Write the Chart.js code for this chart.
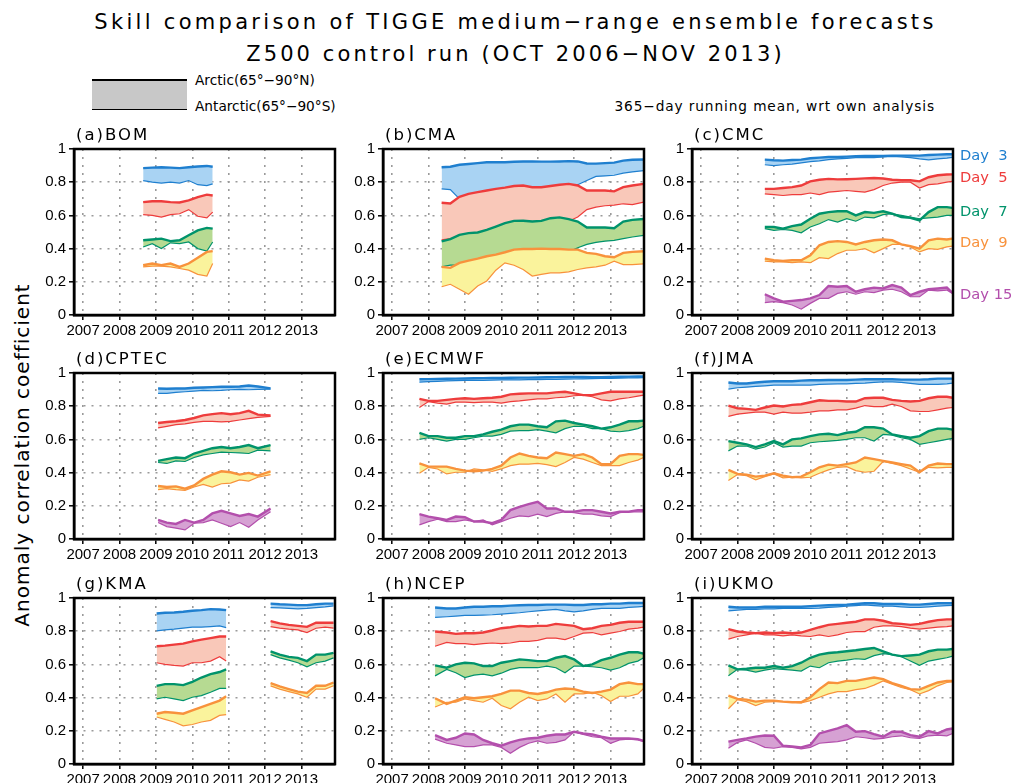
<!DOCTYPE html>
<html>
<head>
<meta charset="utf-8">
<script src="https://cdn.jsdelivr.net/npm/chart.js@4.4.1/dist/chart.umd.min.js"></script>
<style>
  body { margin: 0; background: #fff; }
  #page { position: relative; width: 1020px; height: 783px; overflow: hidden; font-family: "DejaVu Sans", sans-serif; color: #000; }
  .txt { position: absolute; white-space: pre; line-height: 1; }
  .ptitle { position: absolute; white-space: pre; line-height: 1; font-size: 16.5px; letter-spacing: 2px; }
  canvas { position: absolute; }
</style>
</head>
<body>
<div id="page">
  <div class="txt" style="left:0;width:1031px;text-align:center;top:12px;font-size:21px;letter-spacing:3.3px">Skill comparison of TIGGE medium−range ensemble forecasts</div>
  <div class="txt" style="left:0;width:1031px;text-align:center;top:44px;font-size:21px;letter-spacing:3.1px">Z500 control run (OCT 2006−NOV 2013)</div>

  <div style="position:absolute;left:92px;top:79px;width:95px;height:28px;background:#c8c8c8;border-top:2px solid #000;border-bottom:1.3px solid #000"></div>
  <div class="txt" style="left:195px;top:74px;font-size:13.7px">Arctic(65°−90°N)</div>
  <div class="txt" style="left:195px;top:100px;font-size:13.7px">Antarctic(65°−90°S)</div>
  <div class="txt" style="right:85px;top:100px;font-size:13.7px;letter-spacing:0.9px">365−day running mean, wrt own analysis</div>

  <div class="txt" style="left:-151px;top:445px;width:345px;text-align:center;font-size:20px;letter-spacing:1px;transform:rotate(-90deg)">Anomaly correlation coefficient</div>
</div>

<script>
// lead times and colours
const leadDays = ['Day  3', 'Day  5', 'Day  7', 'Day  9', 'Day 15'];
const lineColors = ['#1f7fcf', '#ee3c3c', '#00936b', '#f8923c', '#b34fac'];
const fillColors = ['#a9d3f3', '#f9c8b9', '#b6da92', '#faf39c', '#d6a1d3'];
const dayLabelY = [148, 170, 204, 235, 287];

const yearTicks = [2007, 2008, 2009, 2010, 2011, 2012, 2013];
const yTicks = [0, 0.2, 0.4, 0.6, 0.8, 1];

// common time axis (decimal years, 365-day running mean end points)
const fullTime = [2007.75, 2008, 2008.25, 2008.5, 2008.75, 2009, 2009.25, 2009.5, 2009.75, 2010, 2010.25, 2010.5, 2010.75, 2011, 2011.25, 2011.5, 2011.75, 2012, 2012.25, 2012.5, 2012.75, 2013, 2013.25, 2013.5, 2013.75, 2013.91];

// (a) BOM
const bomTime = [2008.65, 2008.9, 2009.15, 2009.4, 2009.65, 2009.9, 2010.15, 2010.4, 2010.56];
const bomArctic = [
  [0.885, 0.888, 0.89, 0.888, 0.885, 0.89, 0.895, 0.898, 0.893],
  [0.68, 0.685, 0.685, 0.68, 0.678, 0.69, 0.71, 0.725, 0.72],
  [0.45, 0.455, 0.46, 0.445, 0.45, 0.48, 0.51, 0.525, 0.52],
  [0.30, 0.31, 0.30, 0.31, 0.29, 0.31, 0.345, 0.38, 0.385]
];
const bomAntarctic = [
  [0.81, 0.80, 0.795, 0.80, 0.795, 0.81, 0.785, 0.78, 0.79],
  [0.605, 0.60, 0.59, 0.605, 0.61, 0.635, 0.595, 0.585, 0.62],
  [0.41, 0.43, 0.40, 0.435, 0.43, 0.44, 0.40, 0.385, 0.44],
  [0.29, 0.295, 0.295, 0.29, 0.28, 0.27, 0.245, 0.235, 0.31]
];

// (b) CMA
const cmaTime = [2008.36, 2008.6, 2008.85, 2009.1, 2009.35, 2009.6, 2009.85, 2010.1, 2010.35, 2010.6, 2010.85, 2011.1, 2011.35, 2011.6, 2011.85, 2012.1, 2012.35, 2012.6, 2012.85, 2013.1, 2013.35, 2013.6, 2013.91];
const cmaArctic = [
  [0.89, 0.893, 0.905, 0.91, 0.915, 0.92, 0.92, 0.92, 0.923, 0.925, 0.925, 0.924, 0.924, 0.925, 0.927, 0.925, 0.913, 0.912, 0.915, 0.918, 0.93, 0.935, 0.937],
  [0.676, 0.672, 0.712, 0.73, 0.74, 0.75, 0.76, 0.767, 0.777, 0.78, 0.77, 0.77, 0.777, 0.785, 0.79, 0.78, 0.75, 0.75, 0.75, 0.745, 0.77, 0.78, 0.79],
  [0.443, 0.457, 0.483, 0.493, 0.497, 0.513, 0.533, 0.553, 0.567, 0.568, 0.563, 0.567, 0.583, 0.588, 0.578, 0.563, 0.527, 0.527, 0.527, 0.523, 0.563, 0.573, 0.578],
  [0.29, 0.284, 0.314, 0.328, 0.34, 0.354, 0.364, 0.378, 0.394, 0.398, 0.398, 0.40, 0.398, 0.398, 0.394, 0.394, 0.374, 0.368, 0.354, 0.348, 0.374, 0.38, 0.384]
];
const cmaAntarctic = [
  [0.76, 0.755, 0.70, 0.715, 0.725, 0.735, 0.745, 0.752, 0.762, 0.765, 0.755, 0.755, 0.762, 0.77, 0.775, 0.785, 0.81, 0.835, 0.838, 0.842, 0.855, 0.862, 0.87],
  [0.453, 0.46, 0.468, 0.478, 0.482, 0.498, 0.518, 0.538, 0.552, 0.553, 0.548, 0.552, 0.568, 0.573, 0.565, 0.59, 0.635, 0.65, 0.658, 0.662, 0.67, 0.665, 0.68],
  [0.29, 0.30, 0.30, 0.313, 0.325, 0.34, 0.35, 0.363, 0.38, 0.383, 0.383, 0.385, 0.383, 0.383, 0.38, 0.405, 0.425, 0.437, 0.445, 0.45, 0.46, 0.47, 0.48],
  [0.17, 0.185, 0.155, 0.125, 0.175, 0.205, 0.27, 0.314, 0.30, 0.274, 0.235, 0.245, 0.254, 0.254, 0.26, 0.274, 0.284, 0.29, 0.30, 0.324, 0.304, 0.304, 0.308]
];

// (c) CMC
const cmcTime = [2008.75, 2009, 2009.25, 2009.5, 2009.75, 2010, 2010.25, 2010.5, 2010.75, 2011, 2011.25, 2011.5, 2011.75, 2012, 2012.25, 2012.5, 2012.75, 2013, 2013.25, 2013.5, 2013.75, 2013.9];
const cmcArctic = [
  [0.936, 0.932, 0.93, 0.934, 0.936, 0.944, 0.948, 0.952, 0.952, 0.954, 0.956, 0.958, 0.958, 0.958, 0.96, 0.96, 0.96, 0.96, 0.964, 0.966, 0.968, 0.968],
  [0.76, 0.76, 0.765, 0.77, 0.78, 0.805, 0.815, 0.82, 0.817, 0.818, 0.82, 0.823, 0.825, 0.822, 0.815, 0.812, 0.812, 0.805, 0.83, 0.842, 0.846, 0.847],
  [0.53, 0.53, 0.52, 0.535, 0.545, 0.58, 0.61, 0.62, 0.625, 0.625, 0.60, 0.62, 0.615, 0.625, 0.61, 0.59, 0.585, 0.57, 0.62, 0.65, 0.65, 0.645],
  [0.34, 0.33, 0.325, 0.33, 0.33, 0.36, 0.42, 0.44, 0.445, 0.44, 0.425, 0.44, 0.45, 0.455, 0.45, 0.425, 0.415, 0.40, 0.45, 0.46, 0.455, 0.46],
  [0.125, 0.10, 0.08, 0.085, 0.09, 0.10, 0.12, 0.175, 0.17, 0.175, 0.14, 0.155, 0.165, 0.16, 0.18, 0.165, 0.12, 0.14, 0.155, 0.16, 0.165, 0.135]
];
const cmcAntarctic = [
  [0.905, 0.90, 0.905, 0.909, 0.916, 0.924, 0.928, 0.936, 0.94, 0.944, 0.948, 0.948, 0.948, 0.952, 0.955, 0.953, 0.948, 0.94, 0.935, 0.94, 0.945, 0.95],
  [0.73, 0.725, 0.72, 0.725, 0.725, 0.735, 0.725, 0.74, 0.745, 0.75, 0.745, 0.74, 0.755, 0.78, 0.795, 0.80, 0.80, 0.765, 0.785, 0.79, 0.80, 0.805],
  [0.52, 0.51, 0.515, 0.51, 0.495, 0.53, 0.55, 0.575, 0.56, 0.58, 0.565, 0.59, 0.585, 0.605, 0.61, 0.60, 0.59, 0.58, 0.585, 0.59, 0.60, 0.60],
  [0.325, 0.32, 0.32, 0.315, 0.32, 0.315, 0.345, 0.34, 0.37, 0.39, 0.39, 0.40, 0.375, 0.40, 0.425, 0.425, 0.41, 0.38, 0.40, 0.395, 0.41, 0.415],
  [0.075, 0.08, 0.075, 0.06, 0.035, 0.07, 0.10, 0.10, 0.13, 0.14, 0.125, 0.14, 0.135, 0.15, 0.155, 0.14, 0.11, 0.11, 0.15, 0.145, 0.15, 0.13]
];

// (d) CPTEC
const cptecTime = [2009.06, 2009.3, 2009.55, 2009.8, 2010.05, 2010.3, 2010.55, 2010.8, 2011.05, 2011.3, 2011.55, 2011.8, 2012.15];
const cptecArctic = [
  [0.907, 0.905, 0.907, 0.907, 0.911, 0.913, 0.915, 0.917, 0.917, 0.919, 0.925, 0.919, 0.907],
  [0.699, 0.705, 0.709, 0.717, 0.729, 0.745, 0.752, 0.758, 0.752, 0.758, 0.772, 0.749, 0.745],
  [0.471, 0.481, 0.491, 0.487, 0.515, 0.531, 0.547, 0.554, 0.547, 0.554, 0.566, 0.547, 0.566],
  [0.319, 0.313, 0.317, 0.303, 0.323, 0.362, 0.388, 0.408, 0.402, 0.388, 0.398, 0.382, 0.408],
  [0.115, 0.099, 0.091, 0.115, 0.099, 0.115, 0.154, 0.170, 0.154, 0.139, 0.150, 0.135, 0.184]
];
const cptecAntarctic = [
  [0.877, 0.877, 0.883, 0.887, 0.891, 0.895, 0.893, 0.895, 0.899, 0.901, 0.899, 0.901, 0.903],
  [0.669, 0.679, 0.689, 0.693, 0.703, 0.709, 0.709, 0.705, 0.709, 0.717, 0.725, 0.733, 0.739],
  [0.461, 0.455, 0.471, 0.467, 0.491, 0.507, 0.515, 0.523, 0.521, 0.519, 0.515, 0.535, 0.531],
  [0.297, 0.303, 0.297, 0.293, 0.313, 0.329, 0.313, 0.333, 0.337, 0.356, 0.349, 0.372, 0.388],
  [0.099, 0.075, 0.065, 0.055, 0.095, 0.099, 0.115, 0.095, 0.075, 0.099, 0.071, 0.115, 0.164]
];

// (e) ECMWF
const ecmwfArctic = [
  [0.962, 0.963, 0.964, 0.965, 0.966, 0.967, 0.968, 0.969, 0.97, 0.97, 0.971, 0.972, 0.972, 0.973, 0.974, 0.975, 0.976, 0.976, 0.976, 0.975, 0.975, 0.976, 0.977, 0.978, 0.979, 0.979],
  [0.844, 0.832, 0.832, 0.838, 0.844, 0.848, 0.844, 0.848, 0.851, 0.857, 0.871, 0.875, 0.877, 0.877, 0.877, 0.883, 0.887, 0.877, 0.867, 0.867, 0.877, 0.887, 0.887, 0.887, 0.887, 0.887],
  [0.640, 0.620, 0.620, 0.610, 0.610, 0.620, 0.620, 0.630, 0.646, 0.659, 0.679, 0.689, 0.689, 0.679, 0.673, 0.709, 0.713, 0.699, 0.689, 0.679, 0.665, 0.673, 0.689, 0.709, 0.709, 0.713],
  [0.455, 0.436, 0.436, 0.436, 0.422, 0.412, 0.408, 0.412, 0.422, 0.442, 0.491, 0.515, 0.501, 0.491, 0.487, 0.521, 0.511, 0.501, 0.511, 0.491, 0.451, 0.451, 0.501, 0.511, 0.511, 0.507],
  [0.150, 0.135, 0.125, 0.115, 0.135, 0.131, 0.105, 0.105, 0.095, 0.115, 0.174, 0.194, 0.210, 0.224, 0.184, 0.184, 0.164, 0.164, 0.174, 0.174, 0.164, 0.154, 0.164, 0.164, 0.174, 0.174]
];
const ecmwfAntarctic = [
  [0.945, 0.948, 0.95, 0.952, 0.954, 0.955, 0.955, 0.956, 0.957, 0.958, 0.958, 0.959, 0.96, 0.96, 0.961, 0.962, 0.963, 0.964, 0.965, 0.966, 0.967, 0.968, 0.969, 0.97, 0.971, 0.972],
  [0.792, 0.828, 0.818, 0.812, 0.824, 0.824, 0.822, 0.824, 0.824, 0.818, 0.828, 0.832, 0.838, 0.844, 0.844, 0.851, 0.855, 0.863, 0.867, 0.857, 0.838, 0.832, 0.844, 0.851, 0.861, 0.867],
  [0.600, 0.610, 0.600, 0.590, 0.600, 0.600, 0.610, 0.620, 0.620, 0.630, 0.650, 0.653, 0.653, 0.659, 0.650, 0.640, 0.665, 0.679, 0.679, 0.665, 0.665, 0.650, 0.646, 0.653, 0.665, 0.679],
  [0.396, 0.432, 0.422, 0.392, 0.402, 0.402, 0.422, 0.416, 0.408, 0.422, 0.442, 0.451, 0.451, 0.455, 0.448, 0.436, 0.461, 0.491, 0.481, 0.461, 0.442, 0.442, 0.442, 0.461, 0.475, 0.491],
  [0.085, 0.105, 0.119, 0.105, 0.105, 0.115, 0.105, 0.115, 0.085, 0.105, 0.125, 0.139, 0.135, 0.150, 0.135, 0.154, 0.164, 0.158, 0.150, 0.150, 0.139, 0.135, 0.158, 0.164, 0.164, 0.164]
];

// (f) JMA
const jmaArctic = [
  [0.943, 0.937, 0.937, 0.943, 0.947, 0.950, 0.950, 0.950, 0.954, 0.956, 0.956, 0.958, 0.958, 0.958, 0.960, 0.962, 0.962, 0.962, 0.962, 0.960, 0.960, 0.960, 0.962, 0.966, 0.966, 0.966],
  [0.804, 0.788, 0.784, 0.778, 0.792, 0.804, 0.798, 0.808, 0.812, 0.824, 0.836, 0.832, 0.832, 0.828, 0.828, 0.848, 0.851, 0.851, 0.838, 0.832, 0.828, 0.832, 0.848, 0.857, 0.857, 0.851],
  [0.590, 0.580, 0.570, 0.554, 0.570, 0.590, 0.570, 0.600, 0.606, 0.620, 0.630, 0.634, 0.626, 0.640, 0.646, 0.673, 0.673, 0.665, 0.630, 0.620, 0.610, 0.620, 0.650, 0.665, 0.665, 0.659],
  [0.416, 0.392, 0.388, 0.376, 0.382, 0.396, 0.382, 0.372, 0.376, 0.402, 0.432, 0.448, 0.442, 0.451, 0.461, 0.491, 0.481, 0.471, 0.461, 0.451, 0.442, 0.402, 0.442, 0.455, 0.451, 0.451]
];
const jmaAntarctic = [
  [0.903, 0.911, 0.915, 0.919, 0.923, 0.927, 0.927, 0.927, 0.927, 0.927, 0.931, 0.933, 0.935, 0.935, 0.937, 0.939, 0.943, 0.947, 0.947, 0.943, 0.937, 0.931, 0.931, 0.931, 0.935, 0.939],
  [0.739, 0.752, 0.758, 0.764, 0.764, 0.752, 0.764, 0.758, 0.758, 0.764, 0.772, 0.772, 0.778, 0.778, 0.788, 0.804, 0.798, 0.798, 0.812, 0.798, 0.772, 0.768, 0.768, 0.778, 0.788, 0.792],
  [0.531, 0.560, 0.560, 0.541, 0.554, 0.580, 0.554, 0.560, 0.560, 0.580, 0.586, 0.590, 0.594, 0.600, 0.610, 0.610, 0.590, 0.630, 0.626, 0.610, 0.600, 0.570, 0.580, 0.590, 0.600, 0.606],
  [0.352, 0.388, 0.382, 0.356, 0.376, 0.392, 0.368, 0.372, 0.368, 0.372, 0.396, 0.416, 0.432, 0.436, 0.412, 0.402, 0.408, 0.467, 0.455, 0.442, 0.422, 0.402, 0.432, 0.428, 0.432, 0.432]
];

// (g) KMA, two periods with a gap
const kmaTime = [2009.02, 2009.25, 2009.5, 2009.75, 2010, 2010.25, 2010.5, 2010.75, 2010.93, 2011.5, 2012.15, 2012.4, 2012.65, 2012.9, 2013.15, 2013.4, 2013.65, 2013.88];
const kmaArctic = [
  [0.907, 0.911, 0.913, 0.917, 0.923, 0.927, 0.933, 0.931, 0.927, null, 0.966, 0.962, 0.960, 0.957, 0.957, 0.962, 0.966, 0.966],
  [0.709, 0.713, 0.719, 0.725, 0.739, 0.749, 0.758, 0.768, 0.768, null, 0.861, 0.847, 0.838, 0.832, 0.826, 0.851, 0.851, 0.851],
  [0.471, 0.481, 0.481, 0.475, 0.495, 0.521, 0.541, 0.554, 0.570, null, 0.679, 0.659, 0.645, 0.639, 0.620, 0.659, 0.659, 0.669],
  [0.303, 0.313, 0.309, 0.303, 0.323, 0.343, 0.362, 0.382, 0.408, null, 0.487, 0.467, 0.451, 0.436, 0.428, 0.471, 0.471, 0.491]
];
const kmaAntarctic = [
  [0.802, 0.808, 0.812, 0.818, 0.824, 0.824, 0.828, 0.832, 0.822, null, 0.942, 0.940, 0.938, 0.935, 0.937, 0.942, 0.946, 0.952],
  [0.610, 0.600, 0.594, 0.590, 0.610, 0.610, 0.620, 0.646, 0.620, null, 0.828, 0.818, 0.812, 0.808, 0.792, 0.818, 0.824, 0.818],
  [0.392, 0.402, 0.392, 0.382, 0.402, 0.412, 0.432, 0.455, 0.455, null, 0.659, 0.639, 0.626, 0.610, 0.586, 0.610, 0.620, 0.639],
  [0.283, 0.269, 0.253, 0.230, 0.238, 0.253, 0.263, 0.293, 0.297, null, 0.471, 0.451, 0.436, 0.422, 0.402, 0.451, 0.451, 0.471]
];

// (h) NCEP
const ncepTime = [2008.18, 2008.5, 2008.75, 2009, 2009.25, 2009.5, 2009.75, 2010, 2010.25, 2010.5, 2010.75, 2011, 2011.25, 2011.5, 2011.75, 2012, 2012.25, 2012.5, 2012.75, 2013, 2013.25, 2013.5, 2013.75, 2013.91];
const ncepArctic = [
  [0.943, 0.937, 0.937, 0.943, 0.947, 0.947, 0.950, 0.950, 0.954, 0.956, 0.958, 0.958, 0.960, 0.960, 0.960, 0.958, 0.958, 0.962, 0.962, 0.966, 0.966, 0.970, 0.970, 0.970],
  [0.798, 0.792, 0.784, 0.788, 0.788, 0.792, 0.804, 0.818, 0.824, 0.832, 0.828, 0.832, 0.832, 0.844, 0.838, 0.832, 0.812, 0.818, 0.832, 0.838, 0.851, 0.857, 0.857, 0.857],
  [0.594, 0.580, 0.600, 0.610, 0.606, 0.590, 0.590, 0.610, 0.620, 0.630, 0.626, 0.620, 0.620, 0.640, 0.650, 0.630, 0.590, 0.600, 0.626, 0.640, 0.659, 0.673, 0.673, 0.665],
  [0.396, 0.362, 0.382, 0.402, 0.396, 0.402, 0.408, 0.422, 0.442, 0.442, 0.428, 0.422, 0.432, 0.448, 0.455, 0.451, 0.436, 0.428, 0.436, 0.448, 0.481, 0.491, 0.481, 0.481],
  [0.174, 0.145, 0.158, 0.184, 0.178, 0.145, 0.125, 0.110, 0.130, 0.145, 0.154, 0.158, 0.170, 0.178, 0.178, 0.194, 0.184, 0.178, 0.164, 0.154, 0.154, 0.154, 0.150, 0.139]
];
const ncepAntarctic = [
  [0.883, 0.887, 0.891, 0.895, 0.895, 0.897, 0.899, 0.903, 0.907, 0.911, 0.917, 0.923, 0.927, 0.931, 0.923, 0.917, 0.923, 0.931, 0.937, 0.937, 0.937, 0.943, 0.947, 0.950],
  [0.709, 0.733, 0.725, 0.725, 0.719, 0.725, 0.729, 0.725, 0.729, 0.739, 0.739, 0.745, 0.758, 0.758, 0.749, 0.768, 0.788, 0.792, 0.778, 0.788, 0.798, 0.812, 0.818, 0.824],
  [0.531, 0.570, 0.550, 0.521, 0.535, 0.541, 0.531, 0.547, 0.570, 0.580, 0.580, 0.580, 0.590, 0.580, 0.550, 0.590, 0.590, 0.586, 0.580, 0.566, 0.580, 0.606, 0.620, 0.640],
  [0.343, 0.372, 0.372, 0.392, 0.382, 0.372, 0.396, 0.352, 0.333, 0.372, 0.402, 0.382, 0.392, 0.422, 0.372, 0.422, 0.422, 0.432, 0.412, 0.376, 0.408, 0.408, 0.422, 0.455],
  [0.150, 0.125, 0.115, 0.105, 0.105, 0.115, 0.115, 0.100, 0.065, 0.100, 0.125, 0.139, 0.125, 0.130, 0.145, 0.194, 0.178, 0.164, 0.158, 0.125, 0.145, 0.150, 0.145, 0.135]
];

// (i) UKMO
const ukmoArctic = [
  [0.947, 0.943, 0.943, 0.943, 0.947, 0.947, 0.947, 0.947, 0.947, 0.951, 0.954, 0.956, 0.958, 0.960, 0.964, 0.968, 0.968, 0.964, 0.964, 0.964, 0.960, 0.960, 0.964, 0.968, 0.968, 0.968],
  [0.812, 0.798, 0.792, 0.788, 0.792, 0.788, 0.792, 0.788, 0.792, 0.808, 0.824, 0.838, 0.844, 0.851, 0.857, 0.871, 0.871, 0.863, 0.848, 0.844, 0.838, 0.844, 0.857, 0.867, 0.871, 0.871],
  [0.594, 0.570, 0.574, 0.580, 0.580, 0.590, 0.580, 0.590, 0.610, 0.640, 0.659, 0.669, 0.673, 0.679, 0.685, 0.693, 0.699, 0.679, 0.659, 0.650, 0.654, 0.659, 0.679, 0.689, 0.689, 0.693],
  [0.412, 0.392, 0.388, 0.376, 0.382, 0.382, 0.376, 0.372, 0.372, 0.402, 0.451, 0.491, 0.487, 0.501, 0.501, 0.511, 0.521, 0.511, 0.487, 0.471, 0.451, 0.448, 0.471, 0.491, 0.501, 0.501],
  [0.135, 0.145, 0.154, 0.165, 0.172, 0.170, 0.110, 0.105, 0.100, 0.115, 0.184, 0.200, 0.214, 0.234, 0.194, 0.198, 0.180, 0.164, 0.194, 0.194, 0.174, 0.164, 0.198, 0.184, 0.208, 0.214]
];
const ukmoAntarctic = [
  [0.923, 0.927, 0.931, 0.931, 0.935, 0.935, 0.937, 0.937, 0.937, 0.937, 0.939, 0.943, 0.947, 0.951, 0.954, 0.958, 0.954, 0.951, 0.951, 0.947, 0.943, 0.943, 0.947, 0.951, 0.954, 0.956],
  [0.752, 0.768, 0.778, 0.788, 0.778, 0.778, 0.772, 0.778, 0.772, 0.768, 0.778, 0.768, 0.778, 0.792, 0.798, 0.798, 0.824, 0.832, 0.832, 0.828, 0.818, 0.812, 0.818, 0.824, 0.828, 0.832],
  [0.531, 0.570, 0.566, 0.554, 0.566, 0.574, 0.570, 0.566, 0.560, 0.590, 0.580, 0.610, 0.620, 0.626, 0.634, 0.630, 0.653, 0.665, 0.659, 0.646, 0.620, 0.594, 0.620, 0.630, 0.640, 0.650],
  [0.333, 0.388, 0.376, 0.352, 0.372, 0.376, 0.376, 0.372, 0.368, 0.382, 0.402, 0.422, 0.436, 0.436, 0.448, 0.455, 0.475, 0.501, 0.481, 0.461, 0.448, 0.422, 0.442, 0.471, 0.491, 0.495],
  [0.095, 0.130, 0.145, 0.125, 0.100, 0.095, 0.105, 0.100, 0.091, 0.100, 0.125, 0.130, 0.135, 0.145, 0.164, 0.158, 0.150, 0.154, 0.164, 0.170, 0.158, 0.154, 0.170, 0.174, 0.170, 0.184]
];

// panel grid (plot area corners in page px)
const colLeft = [74, 383, 692];
const rowTop = [147, 371, 596];
const plotW = 261, plotH = 168;
const padL = 52, padT = 10, padR = 8, padB = 30;

const page = document.getElementById('page');

// draw the black box round each plot area
const framePlugin = {
  id: 'frame',
  afterDraw(chart) {
    const { ctx, chartArea: a } = chart;
    ctx.save();
    ctx.strokeStyle = '#000';
    ctx.lineWidth = 2.5;
    ctx.strokeRect(a.left, a.top, a.right - a.left, a.bottom - a.top);
    ctx.restore();
  }
};

function drawPanel(title, col, row, time, arctic, antarctic) {
  const left = colLeft[col], top = rowTop[row];

  const cv = document.createElement('canvas');
  cv.width = padL + plotW + padR;
  cv.height = padT + plotH + padB;
  cv.style.left = (left - padL) + 'px';
  cv.style.top = (top - padT) + 'px';
  page.appendChild(cv);

  const lbl = document.createElement('div');
  lbl.className = 'ptitle';
  lbl.textContent = title;
  lbl.style.left = (left + 2) + 'px';
  lbl.style.top = (top - 20) + 'px';
  page.appendChild(lbl);

  const points = vals => time.map((t, i) => ({ x: t, y: vals[i] }));
  const datasets = [];
  arctic.forEach((vals, k) => {
    datasets.push({
      data: points(vals), borderColor: lineColors[k], backgroundColor: fillColors[k],
      borderWidth: 2.4, fill: '+1'
    });
    datasets.push({
      data: points(antarctic[k]), borderColor: lineColors[k], backgroundColor: fillColors[k],
      borderWidth: 1.2, fill: false
    });
  });
  // earlier lead days are painted first, later ones on top
  datasets.forEach((d, i) => {
    d.order = 100 - i;
    d.pointRadius = 0;
    d.tension = 0;
    d.spanGaps = false;
  });

  new Chart(cv, {
    type: 'line',
    data: { datasets },
    options: {
      responsive: false,
      animation: false,
      events: [],
      layout: { padding: { top: padT, right: padR, left: 0, bottom: 0 }, autoPadding: false },
      plugins: { legend: { display: false }, tooltip: { enabled: false } },
      scales: {
        x: {
          type: 'linear', min: 2006.75, max: 2013.92,
          afterBuildTicks: s => { s.ticks = yearTicks.map(v => ({ value: v })); },
          afterFit: s => { s.height = padB; },
          ticks: { autoSkip: false, maxRotation: 0, minRotation: 0, padding: 2, color: '#000',
                   font: { family: 'Liberation Sans', size: 15 }, callback: v => String(v) },
          grid: { color: '#9a9a9a', lineWidth: 1.6, tickLength: 5, tickColor: '#000', tickWidth: 1.5, tickBorderDash: [] },
          border: { color: '#000', width: 2.5, dash: [2, 6] }
        },
        y: {
          min: 0, max: 1,
          afterBuildTicks: s => { s.ticks = yTicks.map(v => ({ value: v })); },
          afterFit: s => { s.width = padL; },
          ticks: { padding: 3, color: '#000', font: { family: 'Liberation Sans', size: 15 },
                   callback: v => String(Math.round(v * 10) / 10) },
          grid: { color: '#9a9a9a', lineWidth: 1.6, tickLength: 5, tickColor: '#000', tickWidth: 1.5, tickBorderDash: [] },
          border: { color: '#000', width: 2.5, dash: [2, 6] }
        }
      }
    },
    plugins: [framePlugin]
  });
}

drawPanel('(a)BOM', 0, 0, bomTime, bomArctic, bomAntarctic);
drawPanel('(b)CMA', 1, 0, cmaTime, cmaArctic, cmaAntarctic);
drawPanel('(c)CMC', 2, 0, cmcTime, cmcArctic, cmcAntarctic);
drawPanel('(d)CPTEC', 0, 1, cptecTime, cptecArctic, cptecAntarctic);
drawPanel('(e)ECMWF', 1, 1, fullTime, ecmwfArctic, ecmwfAntarctic);
drawPanel('(f)JMA', 2, 1, fullTime, jmaArctic, jmaAntarctic);
drawPanel('(g)KMA', 0, 2, kmaTime, kmaArctic, kmaAntarctic);
drawPanel('(h)NCEP', 1, 2, ncepTime, ncepArctic, ncepAntarctic);
drawPanel('(i)UKMO', 2, 2, fullTime, ukmoArctic, ukmoAntarctic);

// lead-day labels to the right of panel (c)
leadDays.forEach((name, k) => {
  const d = document.createElement('div');
  d.className = 'txt';
  d.textContent = name;
  d.style.left = '960px';
  d.style.top = dayLabelY[k] + 'px';
  d.style.fontSize = '14.7px';
  d.style.color = lineColors[k];
  page.appendChild(d);
});
</script>
</body>
</html>
